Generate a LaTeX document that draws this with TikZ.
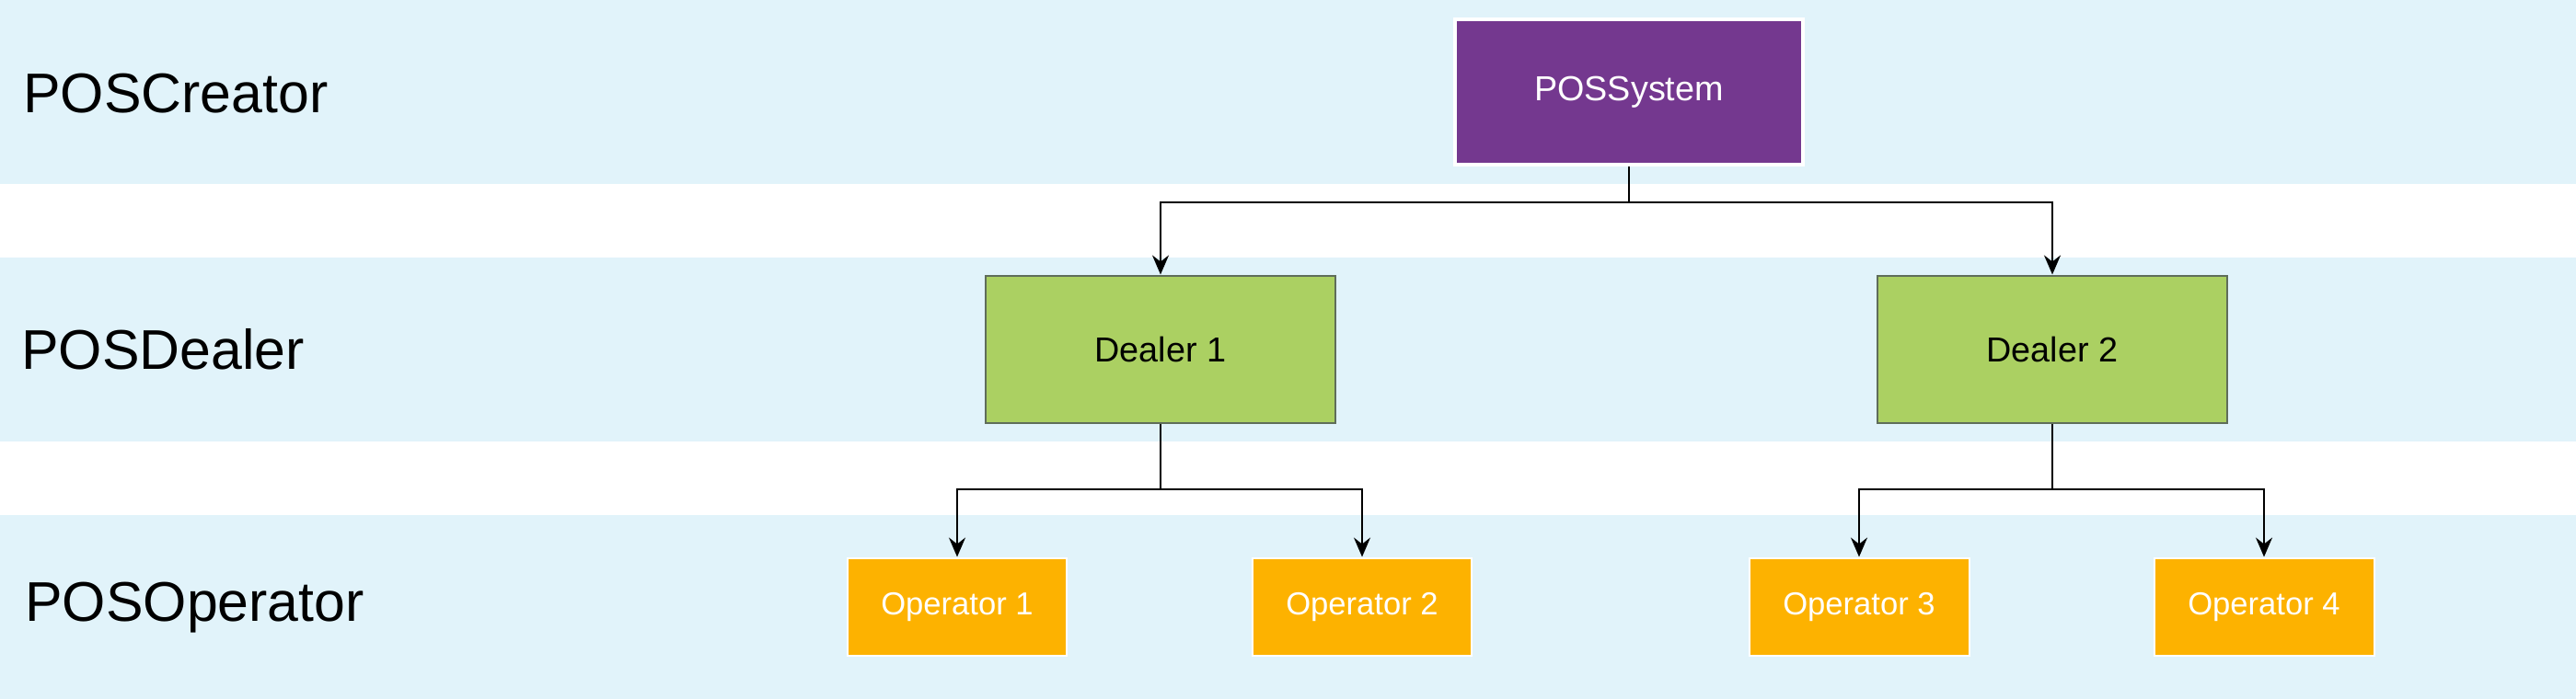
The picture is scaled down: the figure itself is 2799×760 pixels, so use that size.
\documentclass[tikz,border=0pt]{standalone}
\usepackage{fontspec}
\setmainfont{Liberation Sans}
\usetikzlibrary{arrows.meta}
\definecolor{bandblue}{HTML}{E1F3FA}
\definecolor{syspurple}{HTML}{74388F}
\definecolor{dealgreen}{HTML}{ABD062}
\definecolor{dealedge}{HTML}{5F6D5A}
\definecolor{oporange}{HTML}{FDB200}
\begin{document}
\begin{tikzpicture}[x=0.02cm,y=-0.02cm,
    lane/.style={font=\fontsize{34.6pt}{40pt}\selectfont,anchor=west,inner sep=0pt},
    sysbox/.style={fill=syspurple,draw=white,line width=0.08cm,minimum width=7.56cm,minimum height=3.18cm,text=white,font=\fontsize{21.5pt}{26pt}\selectfont},
    dealbox/.style={fill=dealgreen,draw=dealedge,line width=0.04cm,minimum width=7.6cm,minimum height=3.22cm,font=\fontsize{21.5pt}{26pt}\selectfont},
    opbox/.style={fill=oporange,draw=white,line width=0.04cm,minimum width=4.78cm,minimum height=2.14cm,text=white,font=\fontsize{19.7pt}{24pt}\selectfont},
    link/.style={line width=0.04cm,black},
    arr/.style={link,-{Stealth[length=0.42cm,width=0.36cm,inset=0.14cm]}}]
      \useasboundingbox (0,0) rectangle (2799,760);
      % lanes
      \fill[bandblue] (0,0) rectangle (2799,200);
      \fill[bandblue] (0,280) rectangle (2799,480);
      \fill[bandblue] (0,560) rectangle (2799,760);
      \node[lane] (creator) at (25,102) {POSCreator};
      \node[lane] (dealer) at (23,380) {POSDealer};
      \node[lane] (operator) at (27,661) {POSOperator};
      % boxes
      \node[sysbox] (sys) at (1770,100) {POSSystem};
      \node[dealbox] (d1) at (1261,380) {Dealer 1};
      \node[dealbox] (d2) at (2230,380) {Dealer 2};
      \node[opbox] (op1) at (1040,660) {Operator 1};
      \node[opbox] (op2) at (1480,660) {Operator 2};
      \node[opbox] (op3) at (2020,660) {Operator 3};
      \node[opbox] (op4) at (2460,660) {Operator 4};
      % links
      \coordinate (j0) at (1770,220);
      \coordinate (j1) at (1261,532);
      \coordinate (j2) at (2230,532);
      \draw[link] (sys) -- (j0);
      \draw[arr] (j0) -| (d1);
      \draw[arr] (j0) -| (d2);
      \draw[link] (d1) -- (j1);
      \draw[arr] (j1) -| (op1);
      \draw[arr] (j1) -| (op2);
      \draw[link] (d2) -- (j2);
      \draw[arr] (j2) -| (op3);
      \draw[arr] (j2) -| (op4);
\end{tikzpicture}
\end{document}
